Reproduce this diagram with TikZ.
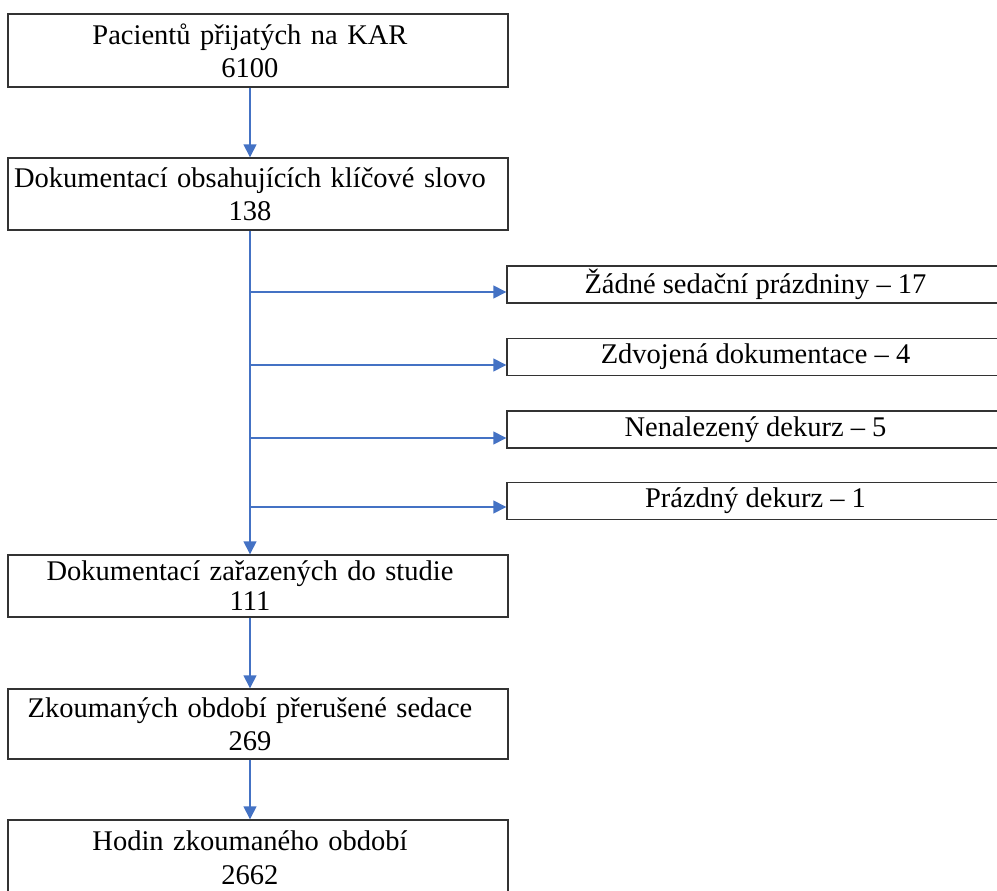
\documentclass[tikz,border=0pt]{standalone}
\usepackage{fontspec}
\setmainfont{Liberation Serif}
\usetikzlibrary{arrows.meta}
\definecolor{flowblue}{RGB}{68,114,196}
\tikzset{
  box/.style={draw=black!80, line width=1.4pt, rectangle, inner sep=0pt,
    font=\fontsize{28.5}{33}\selectfont},
  leftbox/.style={box, text width=500pt,
    execute at begin node={\parindent=0pt\leftskip=0pt plus 1fil\rightskip=16pt plus 1fil\parfillskip=0pt}},
  sidebox/.style={box, align=center, minimum width=497pt, minimum height=37pt},
  flow/.style={draw=flowblue, line width=1.5pt, -{Triangle[length=13pt,width=13pt]}}
}
\begin{document}
\begin{tikzpicture}[x=1pt,y=-1pt]
  \useasboundingbox (0,0) rectangle (997,891);
  \clip (0,0) rectangle (997,891);

  \node[leftbox, minimum height=73pt] (pacienti) at (258,50.5) {Pacientů přijatých na KAR\par 6100};
  \node[leftbox, minimum height=72pt] (dokumentace) at (258,194) {Dokumentací obsahujících klíčové slovo\par 138};

  \node[sidebox] (zadne) at (755.5,284.5) {Žádné sedační prázdniny -- 17};
  \node[sidebox] (zdvojena) at (755.5,357) {Zdvojená dokumentace -- 4};
  \node[sidebox] (nenalezeny) at (755.5,429.5) {Nenalezený dekurz -- 5};
  \node[sidebox] (prazdny) at (755.5,501) {Prázdný dekurz -- 1};

  \node[leftbox, minimum height=62pt, font=\fontsize{28.5}{30}\selectfont] (zarazene) at (258,586) {Dokumentací zařazených do studie\par 111};
  \node[leftbox, minimum height=70pt] (obdobi) at (258,724) {Zkoumaných období přerušené sedace\par 269};
  \node[leftbox, minimum height=76pt, font=\fontsize{28.5}{34}\selectfont] (hodiny) at (258,858) {Hodin zkoumaného období\par 2662};

  \coordinate (spine) at (250,0);
  \coordinate (v1) at (250,292);
  \coordinate (v2) at (250,365);
  \coordinate (v3) at (250,438);
  \coordinate (v4) at (250,507);

  \draw[flow] (pacienti.south -| spine) -- (dokumentace.north -| spine);
  \draw[flow] (dokumentace.south -| spine) -- (zarazene.north -| spine);
  \draw[flow] (v1) -- (v1 -| zadne.west);
  \draw[flow] (v2) -- (v2 -| zdvojena.west);
  \draw[flow] (v3) -- (v3 -| nenalezeny.west);
  \draw[flow] (v4) -- (v4 -| prazdny.west);
  \draw[flow] (zarazene.south -| spine) -- (obdobi.north -| spine);
  \draw[flow] (obdobi.south -| spine) -- (hodiny.north -| spine);
\end{tikzpicture}
\end{document}
